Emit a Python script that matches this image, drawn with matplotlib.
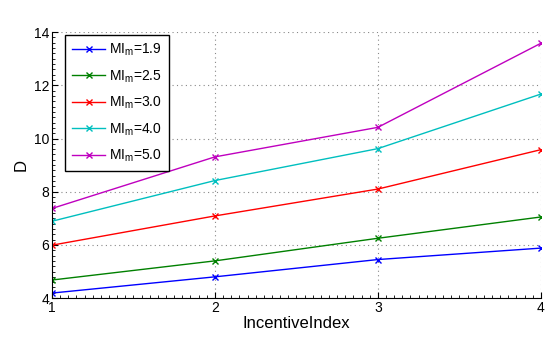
import numpy as np
import matplotlib.pyplot as plt
from matplotlib.ticker import MultipleLocator

plt.rcParams['font.family'] = ['Liberation Sans', 'DejaVu Sans']
plt.rcParams['mathtext.fontset'] = 'custom'
plt.rcParams['mathtext.rm'] = 'Liberation Sans'

# data
incentive_index = [1, 2, 3, 4]
mi_labels = ['1.9', '2.5', '3.0', '4.0', '5.0']
d_19 = [4.19, 4.80, 5.45, 5.88]
d_25 = [4.68, 5.40, 6.25, 7.05]
d_30 = [5.99, 7.09, 8.10, 9.58]
d_40 = [6.89, 8.42, 9.62, 11.67]
d_50 = [7.37, 9.31, 10.42, 13.58]
series = [d_19, d_25, d_30, d_40, d_50]
colors = ['#0000ff', '#008000', '#ff0000', '#00bfbf', '#bf00bf']

fig = plt.figure(figsize=(5.53, 3.38), dpi=100)
ax = fig.add_axes([0.094, 0.118, 0.884, 0.787])

for vals, lab, col in zip(series, mi_labels, colors):
    ax.plot(incentive_index, vals, color=col, marker='x', markersize=4,
            linewidth=1, label='$\\mathregular{MI_{m}}$=' + lab)

ax.set_xlim(1, 4)
ax.set_ylim(4, 14)
ax.set_xticks([1, 2, 3, 4])
ax.set_yticks([4, 6, 8, 10, 12, 14])
ax.xaxis.set_minor_locator(MultipleLocator(0.05))
ax.yaxis.set_minor_locator(MultipleLocator(0.2))
ax.tick_params(which='both', direction='in', labelsize=10, pad=2)
ax.tick_params(which='major', length=4)
ax.tick_params(which='minor', length=2)
ax.grid(True, which='major', linestyle=(0, (1, 3)), color='#888888', linewidth=0.8)
ax.spines['top'].set_visible(False)
ax.spines['right'].set_visible(False)

ax.set_xlabel('IncentiveIndex', fontsize=12, labelpad=1)
ax.set_ylabel('D', fontsize=12)

leg = ax.legend(loc='upper left', bbox_to_anchor=(65 / 553, 1 - 35 / 338),
                bbox_transform=fig.transFigure, borderaxespad=0,
                fontsize=10, fancybox=False, framealpha=1, edgecolor='black',
                labelspacing=0.72, handlelength=2.4, handletextpad=0.25,
                borderpad=0.5)
leg.get_frame().set_linewidth(1)

fig.savefig('out.png', dpi=100)
